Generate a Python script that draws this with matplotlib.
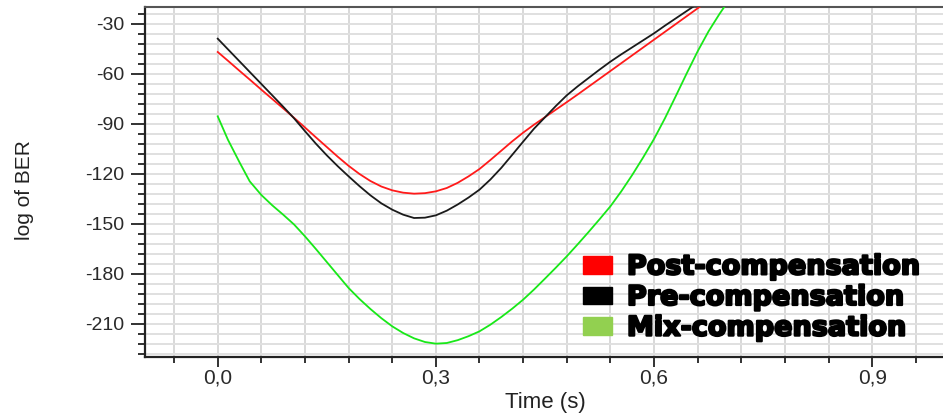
import matplotlib
matplotlib.use("Agg")
import matplotlib.pyplot as plt
from matplotlib.ticker import MultipleLocator, FuncFormatter
from matplotlib.patches import Patch
import matplotlib.patheffects as pe

# ---- data ----
t_post = [0.000, 0.015, 0.030, 0.045, 0.060, 0.075, 0.090, 0.105, 0.120, 0.135, 0.150, 0.165,
          0.180, 0.195, 0.210, 0.225, 0.240, 0.255, 0.270, 0.285, 0.300, 0.315, 0.330, 0.345,
          0.360, 0.375, 0.390, 0.405, 0.420, 0.435, 0.450, 0.465, 0.480, 0.495, 0.510, 0.525,
          0.540, 0.555, 0.570, 0.585, 0.600, 0.615, 0.630, 0.645, 0.660, 0.675]
post_comp = [-47, -52.6, -58.3, -63.9, -69.6, -75.2, -80.8, -86.5, -92.3, -98.2, -104, -109.8,
             -115.3, -120.2, -124.4, -127.7, -130, -131.4, -132, -131.7, -130.6, -128.6, -125.5, -121.6,
             -117.2, -111.8, -106.2, -100.6, -95.4, -90.6, -86.1, -81.6, -77.1, -72.5, -67.8, -63.1,
             -58.4, -53.7, -49, -44.3, -39.6, -34.9, -30.2, -25.5, -20.8, -16]

t_pre = [0.000, 0.015, 0.030, 0.045, 0.060, 0.075, 0.090, 0.105, 0.120, 0.135, 0.150, 0.165,
         0.180, 0.195, 0.210, 0.225, 0.240, 0.255, 0.270, 0.285, 0.300, 0.315, 0.330, 0.345,
         0.360, 0.375, 0.390, 0.405, 0.420, 0.435, 0.450, 0.465, 0.480, 0.495, 0.510, 0.525,
         0.540, 0.555, 0.570, 0.585, 0.600, 0.615, 0.630, 0.645, 0.660]
pre_comp = [-39, -45.8, -52.6, -59.4, -66.2, -73, -79.8, -86.8, -94.5, -102, -109, -115.5,
            -121.6, -127.5, -133, -137.8, -141.6, -144.6, -146.6, -146.4, -145, -142.2, -138.5, -134.3,
            -129.6, -123.5, -116.5, -108.7, -100.8, -93, -86.2, -79.4, -73, -67.6, -62.6, -57.6,
            -52.8, -48.4, -44.2, -40, -35.8, -31.2, -26.8, -22.4, -18]

t_mix = [0.000, 0.014, 0.030, 0.044, 0.060, 0.075, 0.090, 0.105, 0.120, 0.135, 0.150, 0.165,
         0.180, 0.195, 0.210, 0.225, 0.240, 0.255, 0.270, 0.285, 0.300, 0.315, 0.330, 0.345,
         0.360, 0.375, 0.390, 0.405, 0.420, 0.435, 0.450, 0.465, 0.480, 0.495, 0.510, 0.525,
         0.540, 0.555, 0.570, 0.585, 0.600, 0.615, 0.630, 0.645, 0.660, 0.675, 0.690, 0.705]
mix_comp = [-85.6, -99.6, -113.2, -124.6, -132.8, -139.0, -144.6, -150.5, -157.6, -165.2, -173, -180.8,
            -188.6, -195.2, -201.2, -206.7, -211.6, -215.6, -218.8, -221, -222, -221.6, -219.9, -217.5,
            -214.6, -210.6, -206, -201, -195.6, -189.5, -183, -176.4, -169.6, -162.4, -155, -147.4,
            -139.6, -130.6, -120.8, -110.3, -99.2, -86.8, -73.4, -59.8, -46.6, -34.6, -24.2, -14.6]

series_labels = ["Post-compensation", "Pre-compensation", "Mix-compensation"]
line_colors = ["#ff1a1a", "#1a1a1a", "#18e818"]
legend_colors = ["#ff0000", "#000000", "#92d050"]

x_major = [0.0, 0.3, 0.6, 0.9]
y_major = [-30, -60, -90, -120, -150, -180, -210]

W, H = 943, 413
fig = plt.figure(figsize=(W / 100, H / 100), dpi=100)
ax = fig.add_axes([145 / W, 1 - 357 / H, (W - 145) / W + 0.002, (357 - 7) / H])

ax.plot(t_post, post_comp, color=line_colors[0], lw=1.3, zorder=3)
ax.plot(t_pre, pre_comp, color=line_colors[1], lw=1.3, zorder=3)
ax.plot(t_mix, mix_comp, color=line_colors[2], lw=1.3, zorder=3)

ax.set_xlim(-0.1, 1.0)
ax.set_ylim(-230, -20)
ax.set_xticks(x_major)
ax.set_yticks(y_major)
ax.xaxis.set_minor_locator(MultipleLocator(0.06))
ax.yaxis.set_minor_locator(MultipleLocator(6))
ax.xaxis.set_major_formatter(FuncFormatter(lambda v, p: f"{v:.1f}".replace(".", ",")))
ax.yaxis.set_major_formatter(FuncFormatter(lambda v, p: f"{v:.0f}"))

ax.grid(True, which="both", axis="x", color="#d8d8d8", lw=1.4, zorder=0)
ax.grid(True, which="both", axis="y", color="#e0e0e0", lw=1.4, zorder=0)
ax.set_axisbelow(True)

ax.spines["right"].set_visible(False)
ax.spines["top"].set_color("#555555")
ax.spines["top"].set_linewidth(1.5)
ax.spines["left"].set_color("#222222")
ax.spines["left"].set_linewidth(1.6)
ax.spines["bottom"].set_color("#222222")
ax.spines["bottom"].set_linewidth(1.6)

ax.tick_params(axis="y", which="major", direction="out", length=10, width=1.3,
               color="#222222", labelsize=14, labelcolor="#2a2a2a", pad=5)
ax.tick_params(axis="y", which="minor", direction="out", length=5, width=1.3, color="#222222")
ax.tick_params(axis="x", which="major", direction="out", length=7, width=1.3,
               color="#222222", labelsize=15, labelcolor="#2a2a2a", pad=1.5)
ax.tick_params(axis="x", which="minor", direction="out", length=4, width=1.3, color="#222222")
for lab in ax.get_xticklabels() + ax.get_yticklabels():
    lab.set_family(["Liberation Sans", "DejaVu Sans"])

ax.set_xlabel("Time (s)", fontsize=16, color="#222222", family=["Liberation Sans", "DejaVu Sans"],
              labelpad=3)
fig.text(24 / W, 1 - 190 / H, "log of BER", rotation=90, ha="center", va="center", fontsize=15,
         color="#222222", family=["Liberation Sans", "DejaVu Sans"])

fs = 19.5
fs_px = fs * 100 / 72
handles = [Patch(facecolor=c, edgecolor=c) for c in legend_colors]
leg = ax.legend(handles, series_labels, loc="center left",
                bbox_to_anchor=(583 / W, 1 - 298 / H), bbox_transform=fig.transFigure,
                frameon=False, prop={"family": "DejaVu Sans", "weight": "bold", "size": fs},
                handlelength=29 / fs_px, handleheight=17 / fs_px, handletextpad=0.55,
                labelspacing=0.17, borderpad=0, borderaxespad=0)
for txt in leg.get_texts():
    txt.set_path_effects([pe.withStroke(linewidth=1.6, foreground="black")])

fig.savefig("out.png", dpi=100)
